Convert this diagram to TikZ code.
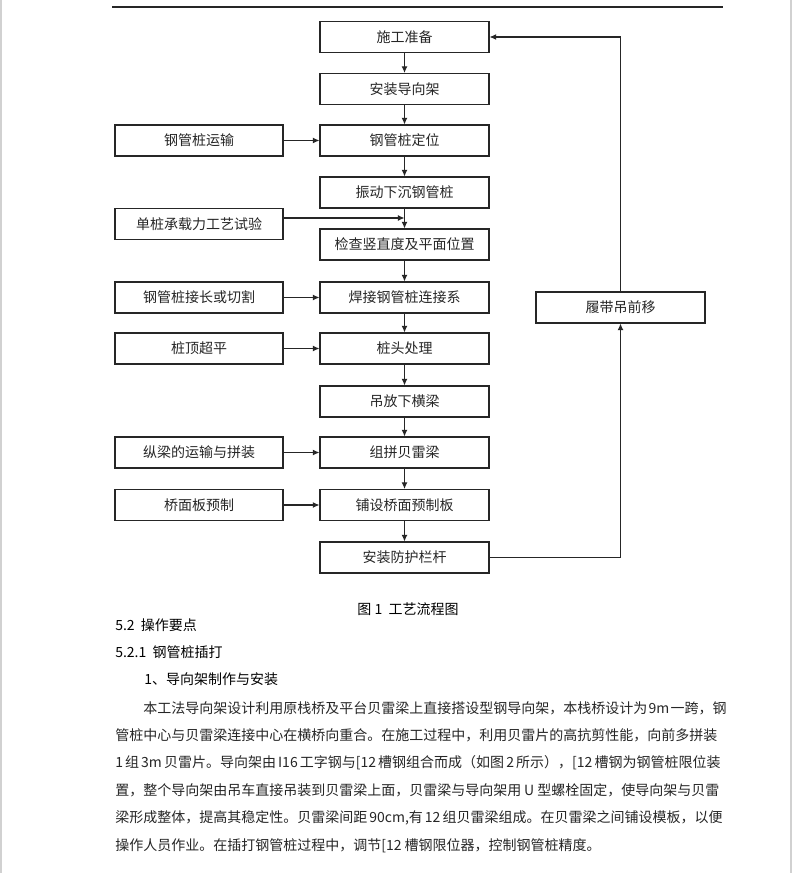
\documentclass[tikz,border=0pt]{standalone}
\usepackage{fontspec}
\setmainfont{Noto Sans CJK SC}
\usetikzlibrary{arrows.meta,calc}
\XeTeXlinebreaklocale "zh"
\XeTeXlinebreakskip=0pt plus 2pt
\begin{document}
\begin{tikzpicture}[x=0.75pt,y=-0.75pt,
  mainbox/.style={draw=black!85, line width=0.8pt, minimum width=126.75pt, minimum height=23.25pt, inner sep=0pt, font=\fontsize{10.5pt}{12pt}\selectfont, text=black!85},
  sidebox/.style={mainbox, minimum width=126pt},
  flow/.style={line width=0.8pt, draw=black!85, -{Latex[length=5pt,width=4.5pt]}},
  txt/.style={anchor=west, inner sep=0pt, font=\fontsize{10.5pt}{12pt}\selectfont, text=black!85},
  head/.style={anchor=west, inner sep=0pt, font=\fontsize{10.5pt}{12pt}\selectfont, text=black}]
\useasboundingbox (0,0) rectangle (796,873);
\fill[white] (0,0) rectangle (796,873);
% page edges and header rule
\draw[black!18, line width=0.8pt] (1,0) -- (1,873);
\draw[black!18, line width=0.8pt] (791,0) -- (791,873);
\draw[black!85, line width=1.1pt] (112,7) -- (723,7);
% main column
\node[mainbox] (m1) at (404.5,37) {施工准备};
\node[mainbox] (m2) at (404.5,89) {安装导向架};
\node[mainbox] (m3) at (404.5,140.5) {钢管桩定位};
\node[mainbox] (m4) at (404.5,192.5) {振动下沉钢管桩};
\node[mainbox] (m5) at (404.5,244.5) {检查竖直度及平面位置};
\node[mainbox] (m6) at (404.5,297.5) {焊接钢管桩连接系};
\node[mainbox] (m7) at (404.5,348.5) {桩头处理};
\node[mainbox] (m8) at (404.5,401.5) {吊放下横梁};
\node[mainbox] (m9) at (404.5,452.5) {组拼贝雷梁};
\node[mainbox] (m10) at (404.5,505) {铺设桥面预制板};
\node[mainbox] (m11) at (404.5,557.5) {安装防护栏杆};
% side boxes
\node[sidebox] (s3) at (199,140.5) {钢管桩运输};
\node[sidebox] (s4) at (199,224) {单桩承载力工艺试验};
\node[sidebox] (s6) at (199,297.5) {钢管桩接长或切割};
\node[sidebox] (s7) at (199,348.5) {桩顶超平};
\node[sidebox] (s9) at (199,452.5) {纵梁的运输与拼装};
\node[sidebox] (s10) at (199,505) {桥面板预制};
\node[mainbox] (r) at (620.5,307.5) {履带吊前移};
% main arrows
\draw[flow] (m1) -- (m2);
\draw[flow] (m2) -- (m3);
\draw[flow] (m3) -- (m4);
\draw[flow] (m4) -- (m5);
\draw[flow] (m5) -- (m6);
\draw[flow] (m6) -- (m7);
\draw[flow] (m7) -- (m8);
\draw[flow] (m8) -- (m9);
\draw[flow] (m9) -- (m10);
\draw[flow] (m10) -- (m11);
% side arrows
\draw[flow] (s3) -- (m3);
\coordinate (j4) at (404.5,218);
\draw[flow] (s4.east |- j4) -- (j4);
\draw[flow] (s6) -- (m6);
\draw[flow] (s7) -- (m7);
\draw[flow] (s9) -- (m9);
\draw[flow] (s10) -- (m10);
% feedback loop
\draw[flow] (m11.east) -- (r.south |- m11.east) -- (r.south);
\draw[flow] (r.north) -- (r.north |- m1.east) -- (m1.east);
% caption and text
\node[head, anchor=center] (cap) at (408,609) {图 1\ \ 工艺流程图};
\node[head] (h1) at (115,625) {5.2\ \ 操作要点};
\node[head] (h2) at (115,652) {5.2.1\ \ 钢管桩插打};
\node[head] (h3) at (144,679) {1、导向架制作与安装};
\node[txt] (l1) at (143,708) {\hbox to 432pt{本工法导向架设计利用原栈桥及平台贝雷梁上直接搭设型钢导向架，本栈桥设计为\kern1pt 9m\kern1pt 一跨，钢}};
\node[txt] (l2) at (115,735.5) {\hbox to 453pt{管桩中心与贝雷梁连接中心在横桥向重合。在施工过程中，利用贝雷片的高抗剪性能，向前多拼装}};
\node[txt] (l3) at (115,763) {\hbox to 453pt{1 组 3m 贝雷片。导向架由 I16 工字钢与[12 槽钢组合而成（如图 2 所示），[12 槽钢为钢管桩限位装}};
\node[txt] (l4) at (115,790.5) {\hbox to 453pt{置，整个导向架由吊车直接吊装到贝雷梁上面，贝雷梁与导向架用 U 型螺栓固定，使导向架与贝雷}};
\node[txt] (l5) at (115,818) {\hbox to 453pt{梁形成整体，提高其稳定性。贝雷梁间距 90cm,有 12 组贝雷梁组成。在贝雷梁之间铺设模板，以便}};
\node[txt] (l6) at (115,845.5) {操作人员作业。在插打钢管桩过程中，调节[12 槽钢限位器，控制钢管桩精度。};
\end{tikzpicture}
\end{document}
